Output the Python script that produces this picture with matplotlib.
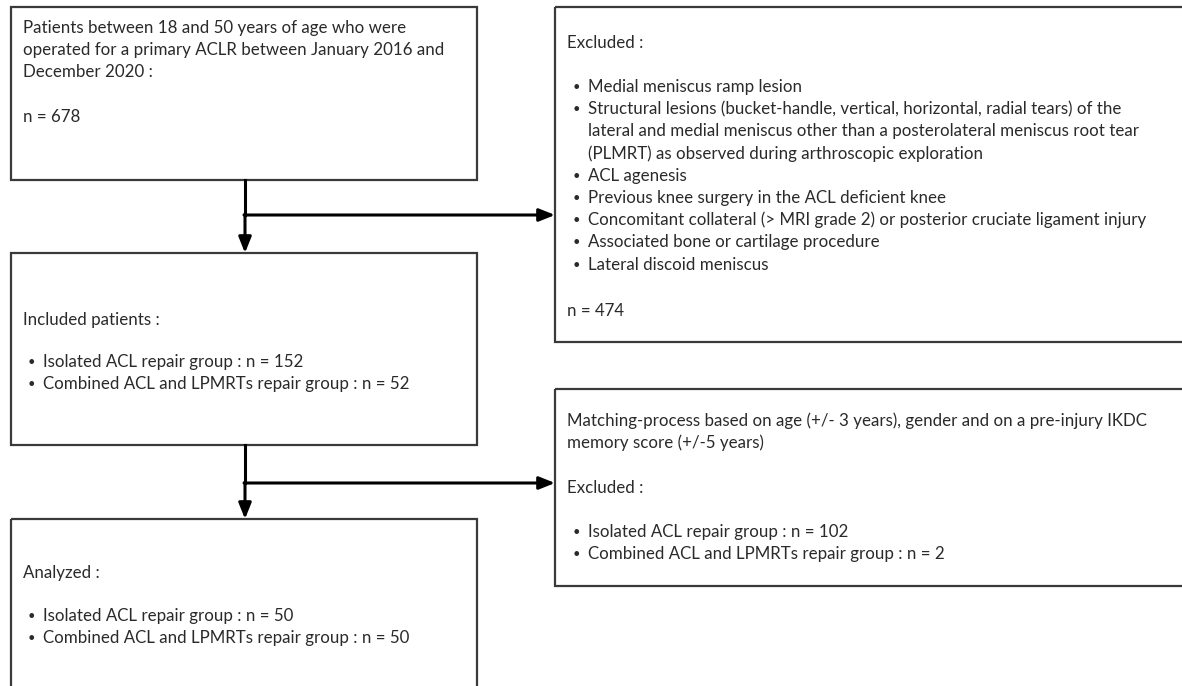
import matplotlib.pyplot as plt
from matplotlib.patches import Rectangle

plt.rcParams['font.family'] = ['Lato', 'DejaVu Sans']

# texts of the flow chart
start_lines = ["Patients between 18 and 50 years of age who were",
               "operated for a primary ACLR between January 2016 and",
               "December 2020 :"]
start_n = "n = 678"

excl_title = "Excluded :"
excl_items = ["Medial meniscus ramp lesion",
              "Structural lesions (bucket-handle, vertical, horizontal, radial tears) of the\n"
              "lateral and medial meniscus other than a posterolateral meniscus root tear\n"
              "(PLMRT) as observed during arthroscopic exploration",
              "ACL agenesis",
              "Previous knee surgery in the ACL deficient knee",
              "Concomitant collateral (> MRI grade 2) or posterior cruciate ligament injury",
              "Associated bone or cartilage procedure",
              "Lateral discoid meniscus"]
excl_n = "n = 474"

incl_title = "Included patients :"
incl_items = ["Isolated ACL repair group : n = 152",
              "Combined ACL and LPMRTs repair group : n = 52"]

match_lines = ["Matching-process based on age (+/- 3 years), gender and on a pre-injury IKDC",
               "memory score (+/-5 years)"]
match_title = "Excluded :"
match_items = ["Isolated ACL repair group : n = 102",
               "Combined ACL and LPMRTs repair group : n = 2"]

anal_title = "Analyzed :"
anal_items = ["Isolated ACL repair group : n = 50",
              "Combined ACL and LPMRTs repair group : n = 50"]

FS = 12.2
LH = 22.2
BOX_EC = '#3a3a3a'
TXT_C = '#2a2a2a'

fig = plt.figure(figsize=(11.82, 6.86), dpi=100)
ax = fig.add_axes([0, 0, 1, 1])
ax.set_xlim(0, 1182)
ax.set_ylim(686, 0)
ax.axis('off')


def box(x0, y0, x1, y1):
    ax.add_patch(Rectangle((x0, y0), x1 - x0, y1 - y0, fill=False,
                           ec=BOX_EC, lw=1.6, clip_on=False))


def txt(x, y, s):
    ax.text(x, y, s, fontsize=FS, va='center', ha='left', color=TXT_C)


def bullets(xb, y, items):
    for it in items:
        ax.text(xb, y, "\u2022", fontsize=FS - 3, va='center', ha='left', color=TXT_C)
        for p in it.split("\n"):
            txt(xb + 15, y, p)
            y += LH
    return y


def arrow(x0, y0, x1, y1):
    ax.annotate("", xy=(x1, y1), xytext=(x0, y0),
                arrowprops=dict(arrowstyle='-|>,head_length=0.95,head_width=0.38',
                                lw=2.2, color='black', shrinkA=0, shrinkB=0))


# boxes
box(11, 7, 477, 180)
box(555, 7, 1190, 342)
box(11, 253, 477, 445)
box(555, 389, 1190, 586)
box(11, 519, 477, 700)

# connectors
ax.plot([245, 245], [180, 215], color='black', lw=2.2)
arrow(245, 214, 245, 253)
arrow(244, 215, 555, 215)
ax.plot([245, 245], [445, 483], color='black', lw=2.2)
arrow(245, 482, 245, 519)
arrow(244, 483, 555, 483)

# start box
y = 28
for s in start_lines:
    txt(23, y, s)
    y += LH
txt(23, 117, start_n)

# excluded box
txt(567, 43, excl_title)
bullets(573, 87, excl_items)
txt(567, 311, excl_n)

# included box
txt(23, 320, incl_title)
bullets(28, 362, incl_items)

# matching box
y = 421
for s in match_lines:
    txt(567, y, s)
    y += LH
txt(567, 488, match_title)
bullets(573, 532, match_items)

# analyzed box
txt(23, 573, anal_title)
bullets(28, 616, anal_items)

fig.savefig("out.png", dpi=100, facecolor='white')
